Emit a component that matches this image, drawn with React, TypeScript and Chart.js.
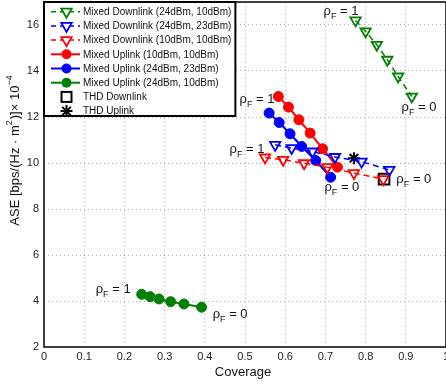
import React, { useEffect, useRef } from 'react';
import { Chart, registerables } from 'chart.js';
Chart.register(...registerables);

// ---- data ----
const dl_24_10_x = [0.775, 0.8, 0.828, 0.854, 0.881, 0.915];
const dl_24_10_y = [16.2, 15.72, 15.14, 14.49, 13.76, 12.89];
const dl_24_23_x = [0.575, 0.616, 0.668, 0.724, 0.79, 0.859];
const dl_24_23_y = [10.79, 10.65, 10.5, 10.26, 10.06, 9.7];
const dl_10_10_x = [0.55, 0.595, 0.647, 0.705, 0.771, 0.844];
const dl_10_10_y = [10.24, 10.14, 9.99, 9.82, 9.56, 9.3];
const ul_10_10_x = [0.583, 0.608, 0.634, 0.662, 0.693, 0.73];
const ul_10_10_y = [12.89, 12.43, 11.88, 11.3, 10.62, 9.82];
const ul_24_23_x = [0.56, 0.585, 0.612, 0.641, 0.676, 0.713];
const ul_24_23_y = [12.17, 11.76, 11.27, 10.72, 10.11, 9.38];
const ul_24_10_x = [0.243, 0.264, 0.286, 0.315, 0.348, 0.392];
const ul_24_10_y = [4.29, 4.19, 4.09, 3.97, 3.87, 3.73];
const thd_dl_x = [0.846];
const thd_dl_y = [9.3];
const thd_ul_x = [0.771];
const thd_ul_y = [10.21];

const seriesLabels = [
  'Mixed Downlink (24dBm, 10dBm)',
  'Mixed Downlink (24dBm, 23dBm)',
  'Mixed Downlink (10dBm, 10dBm)',
  'Mixed Uplink (10dBm, 10dBm)',
  'Mixed Uplink (24dBm, 23dBm)',
  'Mixed Uplink (24dBm, 10dBm)',
  'THD Downlink',
  'THD Uplink',
];

const xTicks = [0, 0.1, 0.2, 0.3, 0.4, 0.5, 0.6, 0.7, 0.8, 0.9, 1];
const yTicks = [2, 4, 6, 8, 10, 12, 14, 16];

// rho_F annotations: [label value, x, y] in data coordinates
const rhoLabels: [string, number, number][] = [
  ['1', 0.739, 16.58],
  ['0', 0.933, 12.4],
  ['1', 0.53, 12.75],
  ['0', 0.741, 8.92],
  ['1', 0.505, 10.57],
  ['0', 0.92, 9.27],
  ['1', 0.172, 4.48],
  ['0', 0.463, 3.39],
];

const GREEN = '#008000';
const BLUE = '#0000ff';
const RED = '#ff0000';
const FONT = '"Liberation Sans", Arial, sans-serif';

const zip = (xs: number[], ys: number[]) => xs.map((x, i) => ({ x, y: ys[i] }));

type Kind = 'dl' | 'ul' | 'sq' | 'star';
const kinds: Kind[] = ['dl', 'dl', 'dl', 'ul', 'ul', 'ul', 'sq', 'star'];
const colors = [GREEN, BLUE, RED, RED, BLUE, GREEN, '#000', '#000'];
const dataSets = [
  zip(dl_24_10_x, dl_24_10_y),
  zip(dl_24_23_x, dl_24_23_y),
  zip(dl_10_10_x, dl_10_10_y),
  zip(ul_10_10_x, ul_10_10_y),
  zip(ul_24_23_x, ul_24_23_y),
  zip(ul_24_10_x, ul_24_10_y),
  zip(thd_dl_x, thd_dl_y),
  zip(thd_ul_x, thd_ul_y),
];

function makeDataset(i: number) {
  const k = kinds[i];
  const c = colors[i];
  const base: any = { label: seriesLabels[i], data: dataSets[i], borderColor: c };
  if (k === 'dl') {
    return {
      ...base,
      showLine: true,
      borderDash: [6, 4],
      borderWidth: 1.5,
      backgroundColor: 'rgba(0,0,0,0)',
      pointStyle: 'triangle',
      pointRotation: 180,
      pointRadius: 6,
      pointBorderWidth: 1.8,
      pointBorderColor: c,
      pointBackgroundColor: 'rgba(0,0,0,0)',
    };
  }
  if (k === 'ul') {
    return {
      ...base,
      showLine: true,
      borderWidth: 2,
      backgroundColor: c,
      pointStyle: 'circle',
      pointRadius: 5,
      pointBorderWidth: 1,
      pointBorderColor: c,
      pointBackgroundColor: c,
    };
  }
  if (k === 'sq') {
    return {
      ...base,
      showLine: false,
      pointStyle: 'rect',
      pointRadius: 7.5,
      pointBorderWidth: 2,
      pointBorderColor: '#000',
      pointBackgroundColor: 'rgba(0,0,0,0)',
    };
  }
  return {
    ...base,
    showLine: false,
    pointStyle: 'star',
    pointRadius: 6,
    pointBorderWidth: 2,
    pointBorderColor: '#000',
    pointBackgroundColor: '#000',
  };
}

function drawMarker(ctx: CanvasRenderingContext2D, k: Kind, x: number, y: number, c: string) {
  ctx.save();
  ctx.setLineDash([]);
  ctx.strokeStyle = c;
  ctx.fillStyle = c;
  if (k === 'dl') {
    const r = 6;
    ctx.lineWidth = 1.8;
    ctx.beginPath();
    for (let j = 0; j < 3; j++) {
      const a = Math.PI + (j * 2 * Math.PI) / 3;
      const px = x + Math.sin(a) * r;
      const py = y - Math.cos(a) * r;
      if (j === 0) ctx.moveTo(px, py);
      else ctx.lineTo(px, py);
    }
    ctx.closePath();
    ctx.fillStyle = '#fff';
    ctx.fill();
    ctx.stroke();
  } else if (k === 'ul') {
    ctx.beginPath();
    ctx.arc(x, y, 5, 0, Math.PI * 2);
    ctx.fill();
  } else if (k === 'sq') {
    ctx.lineWidth = 2;
    ctx.strokeRect(x - 5, y - 5, 10, 10);
  } else {
    ctx.lineWidth = 2;
    const r = 6;
    ctx.beginPath();
    for (let j = 0; j < 4; j++) {
      const a = (j * Math.PI) / 4;
      ctx.moveTo(x - Math.cos(a) * r, y - Math.sin(a) * r);
      ctx.lineTo(x + Math.cos(a) * r, y + Math.sin(a) * r);
    }
    ctx.stroke();
  }
  ctx.restore();
}

const decorPlugin = {
  id: 'decor',
  afterDraw(chart: any) {
    const ctx: CanvasRenderingContext2D = chart.ctx;
    const a = chart.chartArea;
    const xs = chart.scales.x;
    const ys = chart.scales.y;
    ctx.save();

    // axes box
    ctx.strokeStyle = '#000';
    ctx.lineWidth = 1.5;
    ctx.setLineDash([]);
    ctx.strokeRect(a.left, a.top, a.right - a.left, a.bottom - a.top);

    // rho_F labels
    ctx.fillStyle = '#111';
    ctx.textBaseline = 'alphabetic';
    for (const [v, dx, dy] of rhoLabels) {
      const px = xs.getPixelForValue(dx);
      const py = ys.getPixelForValue(dy);
      ctx.font = `13px ${FONT}`;
      const w1 = ctx.measureText('ρ').width;
      const w3 = ctx.measureText(' = ' + v).width;
      ctx.font = `9px ${FONT}`;
      const w2 = ctx.measureText('F').width;
      let sx = px - (w1 + w2 + w3) / 2;
      const base = py + 3;
      ctx.font = `13px ${FONT}`;
      ctx.fillText('ρ', sx, base);
      sx += w1;
      ctx.font = `9px ${FONT}`;
      ctx.fillText('F', sx, base + 4);
      sx += w2;
      ctx.font = `13px ${FONT}`;
      ctx.fillText(' = ' + v, sx, base);
    }

    // x axis title
    ctx.font = `13px ${FONT}`;
    ctx.textAlign = 'center';
    ctx.textBaseline = 'middle';
    ctx.fillStyle = '#111';
    ctx.fillText('Coverage', 243, 372);

    // y axis title (rotated)
    ctx.save();
    ctx.translate(15, 150);
    ctx.rotate(-Math.PI / 2);
    ctx.textAlign = 'left';
    ctx.textBaseline = 'middle';
    const parts: [string, boolean][] = [
      ['ASE [bps/(Hz · m', false],
      ['2', true],
      [')]× 10', false],
      ['−4', true],
    ];
    let total = 0;
    for (const [t, sup] of parts) {
      ctx.font = sup ? `9px ${FONT}` : `13px ${FONT}`;
      total += ctx.measureText(t).width + (sup ? 1 : 0);
    }
    let tx = -total / 2;
    for (const [t, sup] of parts) {
      ctx.font = sup ? `9px ${FONT}` : `13px ${FONT}`;
      ctx.fillText(t, tx, sup ? -5 : 0);
      tx += ctx.measureText(t).width + (sup ? 1 : 0);
    }
    ctx.restore();

    // legend
    ctx.font = `10px ${FONT}`;
    ctx.textAlign = 'left';
    ctx.textBaseline = 'middle';
    let maxW = 0;
    for (const s of seriesLabels) maxW = Math.max(maxW, ctx.measureText(s).width);
    const lx = a.left;
    const ly = a.top;
    const boxW = 39 + maxW + 4;
    const boxH = 114;
    ctx.fillStyle = '#fff';
    ctx.fillRect(lx, ly, boxW, boxH);
    ctx.strokeStyle = '#000';
    ctx.lineWidth = 2;
    ctx.strokeRect(lx, ly, boxW, boxH);
    for (let i = 0; i < seriesLabels.length; i++) {
      const yy = ly + 9.7 + i * 14.2;
      const k = kinds[i];
      const c = colors[i];
      if (k === 'dl' || k === 'ul') {
        ctx.save();
        ctx.strokeStyle = c;
        ctx.lineWidth = k === 'dl' ? 1.5 : 2;
        ctx.setLineDash(k === 'dl' ? [5, 4] : []);
        ctx.beginPath();
        ctx.moveTo(lx + 7, yy);
        ctx.lineTo(lx + 36, yy);
        ctx.stroke();
        ctx.restore();
      }
      drawMarker(ctx, k, lx + 22.5, yy, c);
      ctx.fillStyle = '#111';
      ctx.font = `10px ${FONT}`;
      ctx.fillText(seriesLabels[i], lx + 39, yy + 0.5);
    }
    ctx.restore();
  },
};

export default function App() {
  const ref = useRef<HTMLCanvasElement>(null);
  useEffect(() => {
    document.body.style.margin = '0';
    const chart = new Chart(ref.current!, {
      type: 'scatter',
      data: { datasets: seriesLabels.map((_, i) => makeDataset(i)) as any },
      options: {
        animation: false,
        responsive: false,
        layout: { autoPadding: false, padding: { top: 2, right: 0, left: 0, bottom: 0 } },
        plugins: { legend: { display: false }, tooltip: { enabled: false } },
        scales: {
          x: {
            type: 'linear',
            min: 0,
            max: 1,
            afterFit: (s: any) => {
              s.height = 39;
              s.paddingLeft = 0;
              s.paddingRight = 0;
            },
            afterBuildTicks: (s: any) => { s.ticks = xTicks.map((v) => ({ value: v })); },
            ticks: {
              padding: 3,
              font: { family: FONT, size: 11 },
              color: '#222',
              maxRotation: 0,
              autoSkip: false,
              callback: (v: any) => String(Number(Number(v).toFixed(1))),
            },
            grid: { color: '#b0b0b0', lineWidth: 1, drawTicks: false },
            border: { display: false, dash: [1, 3] },
          },
          y: {
            type: 'linear',
            min: 2,
            max: 17,
            afterFit: (s: any) => {
              s.width = 44;
              s.paddingTop = 0;
              s.paddingBottom = 0;
            },
            afterBuildTicks: (s: any) => { s.ticks = yTicks.map((v) => ({ value: v })); },
            ticks: {
              padding: 5,
              font: { family: FONT, size: 11 },
              color: '#222',
              autoSkip: false,
              callback: (v: any) => String(v),
            },
            grid: { color: '#b0b0b0', lineWidth: 1, drawTicks: false },
            border: { display: false, dash: [1, 3] },
          },
        },
      },
      plugins: [decorPlugin],
    });
    return () => chart.destroy();
  }, []);
  return (
    <div style={{ width: 446, height: 386 }}>
      <canvas ref={ref} width={446} height={386} style={{ display: 'block' }} />
    </div>
  );
}
